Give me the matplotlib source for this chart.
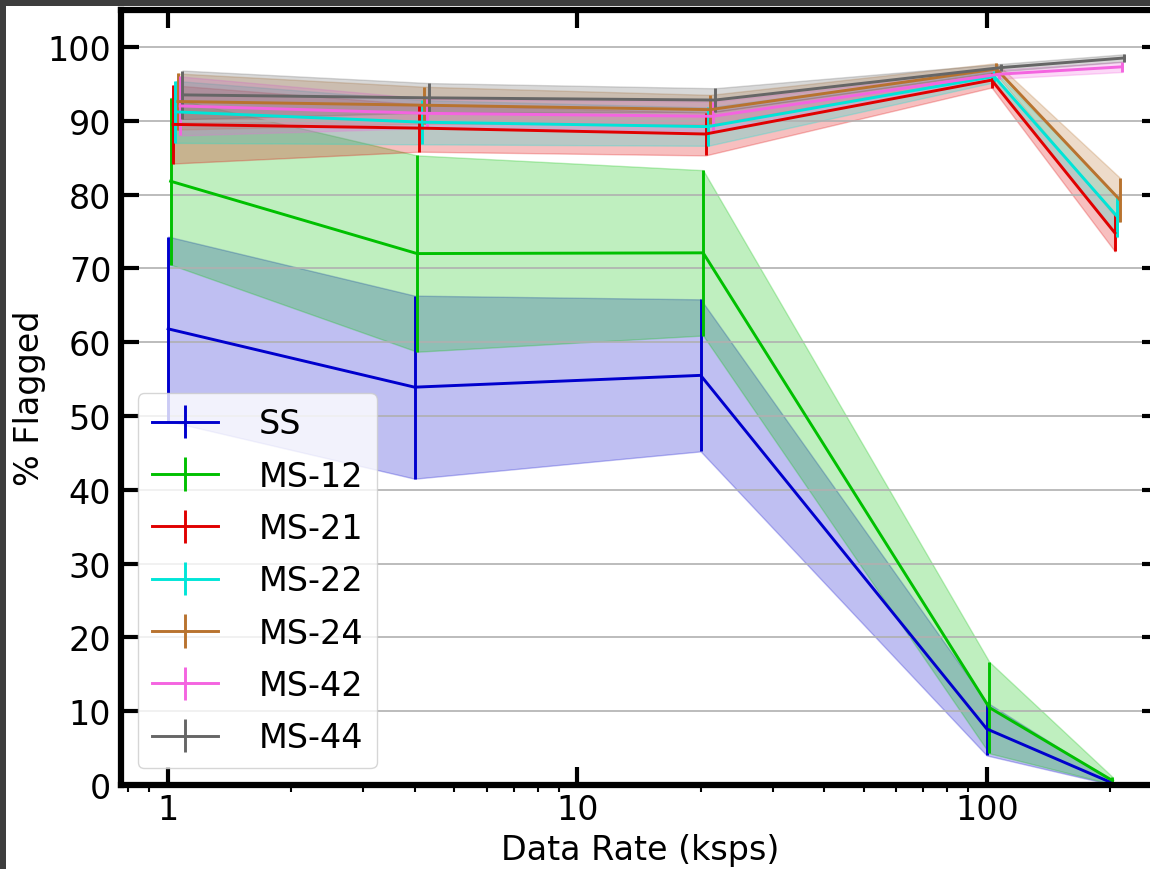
import matplotlib
matplotlib.use("Agg")
import matplotlib.pyplot as plt
import numpy as np
from matplotlib.patches import Rectangle
from matplotlib.ticker import ScalarFormatter, NullFormatter, LogLocator

# data rates (ksps)
rates = [1, 4, 20, 100, 200]

labels = ["SS", "MS-12", "MS-21", "MS-22", "MS-24", "MS-42", "MS-44"]

ss_mean = [61.8, 53.9, 55.5, 7.6, 0.4]
ss_err = [12.5, 12.4, 10.3, 3.6, 0.3]

ms12_mean = [81.8, 72.0, 72.1, 10.5, 0.6]
ms12_err = [11.3, 13.3, 11.2, 6.2, 0.5]

ms21_mean = [89.5, 89.0, 88.2, 95.5, 74.8]
ms21_err = [5.3, 3.2, 2.9, 1.0, 2.5]

ms22_mean = [91.2, 89.8, 89.2, 96.0, 77.0]
ms22_err = [4.2, 3.0, 2.6, 0.8, 2.8]

ms24_mean = [92.6, 92.1, 91.5, 97.0, 79.3]
ms24_err = [3.8, 2.5, 2.0, 0.8, 3.0]

ms42_mean = [92.0, 91.0, 90.6, 96.3, 97.3]
ms42_err = [4.0, 2.0, 2.0, 0.6, 0.7]

ms44_mean = [93.5, 93.1, 92.8, 97.2, 98.5]
ms44_err = [3.3, 2.0, 1.6, 0.5, 0.5]

means = [ss_mean, ms12_mean, ms21_mean, ms22_mean, ms24_mean, ms42_mean, ms44_mean]
errs = [ss_err, ms12_err, ms21_err, ms22_err, ms24_err, ms42_err, ms44_err]

colors = ["#0000cd", "#00c000", "#e00000", "#00e5d8", "#b8732f", "#f464e0", "#666666"]

plt.rcParams["font.family"] = "DejaVu Sans"
plt.rcParams["font.size"] = 24

W, H = 1150, 870
fig = plt.figure(figsize=(W / 100, H / 100), dpi=100)
fig.patch.set_facecolor("white")

# dark screenshot border (top and left)
fig.patches.append(Rectangle((0, 1 - 7 / H), 1, 7 / H, transform=fig.transFigure,
                             facecolor="#3d3d3d", edgecolor="none"))
fig.patches.append(Rectangle((0, 0), 6 / W, 1, transform=fig.transFigure,
                             facecolor="#3d3d3d", edgecolor="none"))

# axes (right spine sits just outside the picture)
left, right = 121, 1160
bottom, top = 786, 11
ax = fig.add_axes([left / W, (H - bottom) / H, (right - left) / W, (bottom - top) / H])

for i, (lab, m, e, c) in enumerate(zip(labels, means, errs, colors)):
    x = np.array(rates) * (1 + 0.014 * i)
    m = np.array(m)
    e = np.array(e)
    ax.fill_between(x, m - e, m + e, color=c, alpha=0.25)
    ax.errorbar(x, m, yerr=e, color=c, lw=2.1, elinewidth=2.1, capsize=0, label=lab)

ax.set_xscale("log")
ax.set_xlim(0.767, 265)
ax.set_ylim(0, 105)
ax.set_yticks(range(0, 101, 10))
ax.xaxis.set_major_formatter(ScalarFormatter())
ax.xaxis.set_minor_locator(LogLocator(base=10, subs=np.arange(2, 10)))
ax.xaxis.set_minor_formatter(NullFormatter())

ax.grid(axis="y", which="major", color="#b0b0b0", lw=1.2)

for s in ax.spines.values():
    s.set_linewidth(4.5)

ax.tick_params(which="major", direction="in", length=13, width=3,
               top=True, right=True, labelsize=24)
ax.tick_params(axis="x", which="major", pad=6)
ax.tick_params(axis="y", which="major", pad=7)
ax.tick_params(axis="x", which="minor", direction="out", length=5, width=1.5,
               top=False, bottom=True)

ax.set_xlabel("Data Rate (ksps)", fontsize=24, labelpad=5)
ax.set_ylabel("% Flagged", fontsize=24, labelpad=1)

ax.legend(loc="lower left", fontsize=24, handlelength=2.0, handletextpad=1.2,
          labelspacing=0.58, borderpad=0.42)

fig.savefig("out.png", dpi=100, facecolor="white")
